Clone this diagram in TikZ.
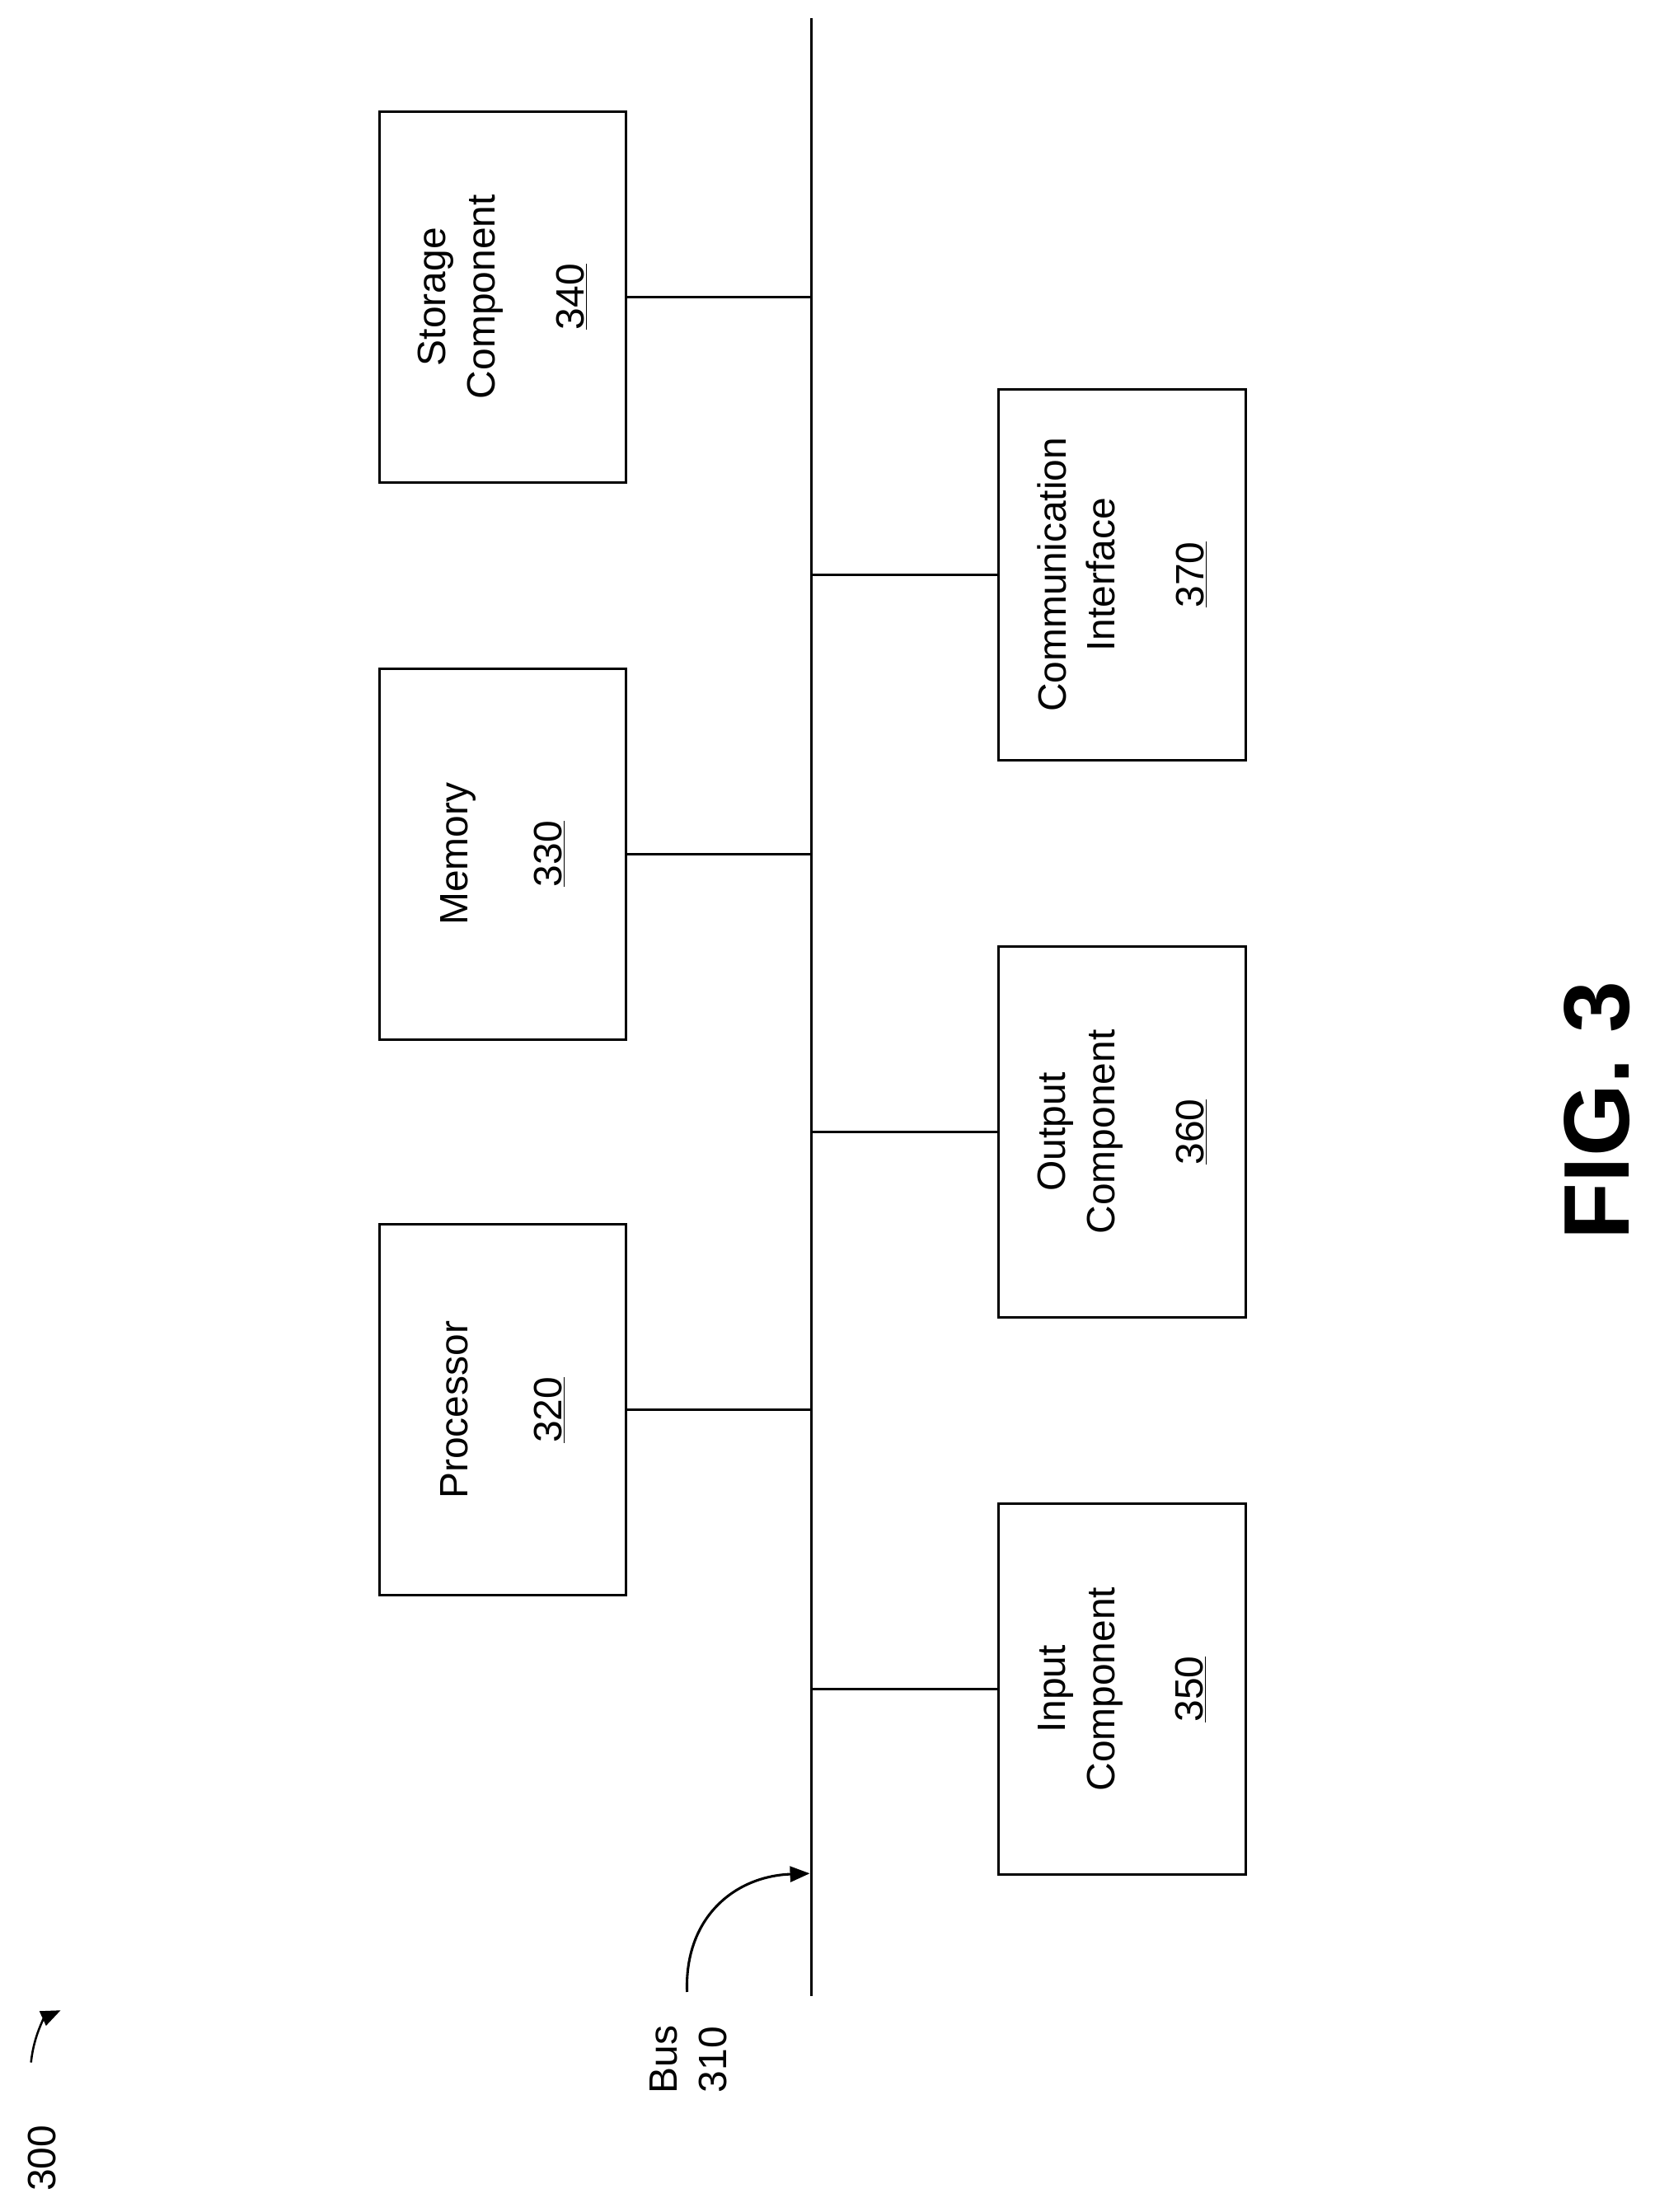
\documentclass[tikz,border=0pt]{standalone}
\usepackage{fontspec}
\setmainfont{Liberation Sans}
\usetikzlibrary{arrows.meta}
\begin{document}
\begin{tikzpicture}[x=1pt,y=-1pt,line width=1.8pt,
  box/.style={draw,minimum width=175pt,minimum height=263pt,anchor=north west,inner sep=0pt},
  lbl/.style={rotate=90,align=center,font=\fontsize{28}{35}\selectfont},
  ar/.style={-{Triangle[length=14pt,width=11pt]}}]
\useasboundingbox (0,0) rectangle (1173,1568);
\coordinate (bt) at (575,13);
\coordinate (bb) at (575,1415);
\draw (bt) -- (bb);
\foreach \n/\x/\y in {s/268/78,m/268/473,p/268/867,c/707/275,o/707/670,i/707/1065}
  \node[box] (\n) at (\x,\y) {};
\node[lbl] at (s.center) {Storage\\Component\\[28pt]\underline{340}};
\node[lbl] at (m.center) {Memory\\[32pt]\underline{330}};
\node[lbl] at (p.center) {Processor\\[32pt]\underline{320}};
\node[lbl] at (c.center) {Communication\\Interface\\[28pt]\underline{370}};
\node[lbl] at (o.center) {Output\\Component\\[28pt]\underline{360}};
\node[lbl] at (i.center) {Input\\Component\\[28pt]\underline{350}};
\foreach \n in {s,m,p} \draw (\n.east) -- (575,0 |- \n.east);
\foreach \n in {c,o,i} \draw (\n.west) -- (575,0 |- \n.west);
\node[lbl] (bus) at (488,1460) {Bus\\310};
\coordinate (ba) at (574,1328);
\draw[ar] (487,1412) .. controls (485,1360) and (520,1330) .. (ba);
\node[lbl] (n300) at (30,1530) {300};
\coordinate (a3) at (43,1425);
\draw[ar,line width=1.5pt] (22,1462) .. controls (24,1442) and (32,1430) .. (a3);
\node[rotate=90,font=\bfseries\fontsize{66}{70}\selectfont] (fig) at (1132,787) {FIG. 3};
\end{tikzpicture}
\end{document}
